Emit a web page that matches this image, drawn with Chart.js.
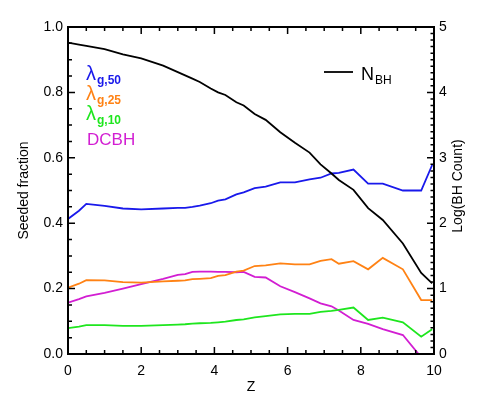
<!DOCTYPE html>
<html>
<head>
<meta charset="utf-8">
<script src="https://cdn.jsdelivr.net/npm/chart.js@4"></script>
<style>
  html, body { margin: 0; padding: 0; background: #fff; }
  #wrap { width: 485px; height: 409px; position: relative; }
</style>
</head>
<body>
<div id="wrap"><canvas id="chart"></canvas></div>
<script>
// redshift snapshots
const zValues = [0, 0.3, 0.5, 1.0, 1.5, 2.0, 2.6, 3.0, 3.2, 3.4, 3.6, 3.9, 4.1, 4.3, 4.6, 4.8,
  5.1, 5.4, 5.8, 6.2, 6.6, 6.9, 7.2, 7.4, 7.8, 8.2, 8.6, 9.15, 9.65, 9.95];

// seeded fractions (left axis)
const lambda50 = [0.413, 0.438, 0.459, 0.453, 0.445, 0.442, 0.445, 0.447, 0.447, 0.450, 0.454, 0.461, 0.469, 0.473, 0.488, 0.494,
  0.507, 0.512, 0.525, 0.525, 0.534, 0.539, 0.552, 0.554, 0.564, 0.521, 0.521, 0.500, 0.500, 0.578];
const lambda25 = [0.203, 0.215, 0.226, 0.225, 0.220, 0.218, 0.222, 0.224, 0.225, 0.229, 0.230, 0.232, 0.239, 0.241, 0.252, 0.255,
  0.269, 0.271, 0.277, 0.274, 0.274, 0.285, 0.290, 0.276, 0.284, 0.259, 0.294, 0.259, 0.165, 0.165];
const lambda10 = [0.079, 0.084, 0.088, 0.088, 0.086, 0.086, 0.088, 0.090, 0.091, 0.093, 0.094, 0.095, 0.097, 0.099, 0.104, 0.106,
  0.112, 0.116, 0.121, 0.123, 0.123, 0.129, 0.132, 0.135, 0.142, 0.104, 0.111, 0.097, 0.053, 0.076];
const dcbh = [0.157, 0.168, 0.176, 0.187, 0.200, 0.214, 0.230, 0.242, 0.244, 0.251, 0.252, 0.252, 0.251, 0.251, 0.250, 0.251,
  0.236, 0.234, 0.207, 0.189, 0.170, 0.155, 0.146, 0.133, 0.104, 0.092, 0.076, 0.058, -0.01, -0.12];

// log of black hole count (right axis)
const logBH = [4.76, 4.73, 4.71, 4.66, 4.58, 4.52, 4.41, 4.31, 4.26, 4.21, 4.16, 4.06, 4.00, 3.96, 3.85, 3.80,
  3.67, 3.58, 3.39, 3.23, 3.08, 2.90, 2.76, 2.66, 2.51, 2.23, 2.05, 1.69, 1.24, 1.08];

const FONT = 'Liberation Sans, Arial, Helvetica, sans-serif';
const BLUE = 'rgb(25,25,235)';
const ORANGE = 'rgb(255,130,20)';
const GREEN = 'rgb(30,230,30)';
const MAGENTA = 'rgb(210,30,210)';

const pts = arr => arr.map((v, i) => ({ x: zValues[i], y: v }));

function lineSet(label, arr, color, axis) {
  return {
    label: label,
    data: pts(arr),
    borderColor: color,
    borderWidth: 1.8,
    pointRadius: 0,
    tension: 0,
    fill: false,
    yAxisID: axis
  };
}

// box, inward ticks (major + minor), right title and the text legend
const idlAxes = {
  id: 'idlAxes',
  afterDraw(chart) {
    const ctx = chart.ctx;
    const a = chart.chartArea;
    const sx = chart.scales.x, sy = chart.scales.y, sy1 = chart.scales.y1;
    ctx.save();
    ctx.strokeStyle = '#000';
    ctx.lineWidth = 2;
    ctx.strokeRect(a.left, a.top, a.right - a.left, a.bottom - a.top);

    ctx.lineWidth = 1.5;
    ctx.beginPath();
    for (let v = 0; v <= 10.001; v += 0.5) {
      const px = sx.getPixelForValue(v);
      const len = Math.abs(v / 2 - Math.round(v / 2)) < 1e-6 ? 7 : 4;
      ctx.moveTo(px, a.bottom); ctx.lineTo(px, a.bottom - len);
      ctx.moveTo(px, a.top); ctx.lineTo(px, a.top + len);
    }
    for (let v = 0; v <= 1.0001; v += 0.05) {
      const py = sy.getPixelForValue(v);
      const len = Math.abs(v / 0.2 - Math.round(v / 0.2)) < 1e-6 ? 7 : 4;
      ctx.moveTo(a.left, py); ctx.lineTo(a.left + len, py);
    }
    for (let v = 0; v <= 5.0001; v += 0.1) {
      const py = sy1.getPixelForValue(v);
      const len = Math.abs(v - Math.round(v)) < 1e-6 ? 7 : 3.5;
      ctx.moveTo(a.right, py); ctx.lineTo(a.right - len, py);
    }
    ctx.stroke();

    // right axis title, reading bottom to top
    ctx.save();
    ctx.translate(458, 186);
    ctx.rotate(-Math.PI / 2);
    ctx.fillStyle = '#000';
    ctx.font = '14px ' + FONT;
    ctx.textAlign = 'center';
    ctx.textBaseline = 'middle';
    ctx.fillText('Log(BH Count)', 0, 0);
    ctx.restore();

    // left legend with subscripts
    const rows = [
      { sub: 'g,50', color: BLUE, y: 80 },
      { sub: 'g,25', color: ORANGE, y: 100 },
      { sub: 'g,10', color: GREEN, y: 120 }
    ];
    ctx.textBaseline = 'alphabetic';
    ctx.textAlign = 'left';
    rows.forEach(r => {
      ctx.fillStyle = r.color;
      ctx.font = '20px ' + FONT;
      ctx.fillText('λ', 86, r.y);
      ctx.font = 'bold 12px ' + FONT;
      ctx.fillText(r.sub, 97, r.y + 3.5);
    });
    ctx.fillStyle = MAGENTA;
    ctx.font = '17px ' + FONT;
    ctx.fillText('DCBH', 87, 145);

    // N_BH legend
    ctx.strokeStyle = '#000';
    ctx.lineWidth = 1.8;
    ctx.beginPath();
    ctx.moveTo(324, 72); ctx.lineTo(353, 72);
    ctx.stroke();
    ctx.fillStyle = '#000';
    ctx.font = '18px ' + FONT;
    ctx.fillText('N', 361, 80);
    ctx.font = '12px ' + FONT;
    ctx.fillText('BH', 375, 84);
    ctx.restore();
  }
};

const tickFont = { family: FONT, size: 14 };

new Chart(document.querySelector('#chart'), {
  type: 'line',
  data: {
    datasets: [
      lineSet('N_BH', logBH, '#000', 'y1'),
      lineSet('lambda_g,50', lambda50, BLUE, 'y'),
      lineSet('lambda_g,25', lambda25, ORANGE, 'y'),
      lineSet('lambda_g,10', lambda10, GREEN, 'y'),
      lineSet('DCBH', dcbh, MAGENTA, 'y')
    ]
  },
  options: {
    responsive: true,
    maintainAspectRatio: false,
    animation: false,
    layout: { padding: { top: 27, left: 0, right: 0, bottom: 0 } },
    plugins: { legend: { display: false }, tooltip: { enabled: false } },
    scales: {
      x: {
        type: 'linear',
        min: 0, max: 10,
        grid: { display: false, drawTicks: false },
        border: { display: false },
        ticks: { stepSize: 2, color: '#000', font: tickFont, padding: 9, maxRotation: 0 },
        title: { display: true, text: 'Z', color: '#000', font: tickFont, padding: { top: 0, bottom: 13 } },
        afterFit: s => { s.height = 55; }
      },
      y: {
        position: 'left',
        min: 0, max: 1,
        grid: { display: false, drawTicks: false },
        border: { display: false },
        ticks: { stepSize: 0.2, color: '#000', font: tickFont, padding: 5, callback: v => v.toFixed(1) },
        title: { display: true, text: 'Seeded fraction', color: '#000', font: tickFont, padding: { top: 16, bottom: 0 } },
        afterFit: s => { s.width = 68; }
      },
      y1: {
        position: 'right',
        min: 0, max: 5,
        grid: { display: false, drawTicks: false },
        border: { display: false },
        ticks: { stepSize: 1, color: '#000', font: tickFont, padding: 5 },
        title: { display: false },
        afterFit: s => { s.width = 51; }
      }
    }
  },
  plugins: [idlAxes]
});
</script>
</body>
</html>
